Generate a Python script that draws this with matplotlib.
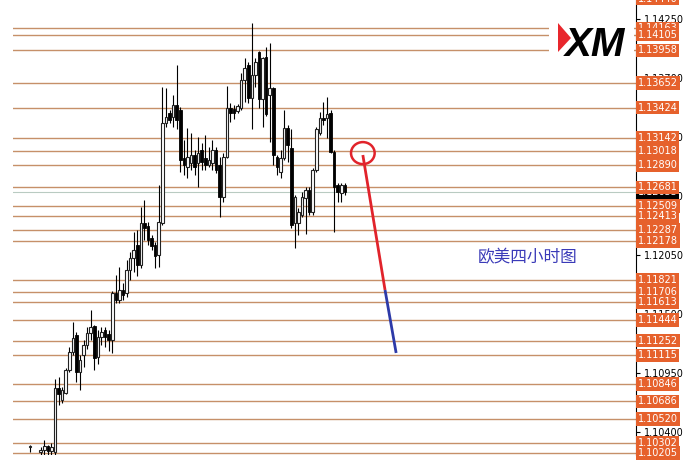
import numpy as np
import matplotlib
matplotlib.use("Agg")
import matplotlib.pyplot as plt
from matplotlib.patches import Ellipse, Rectangle, Polygon
import matplotlib.transforms as mtransforms

# EURUSD H4 candles (open, high, low, close)
opens = [
    1.1026, 1.1015, 1.1013, 1.1021, 1.1023, 1.1027, 1.1022, 1.1021, 1.1081, 1.1070,
    1.1076, 1.1098, 1.1115, 1.1130, 1.1096, 1.1112, 1.1121, 1.1132, 1.1139, 1.1110,
    1.1129, 1.1135, 1.1131, 1.1126, 1.1170, 1.1163, 1.1172, 1.1170, 1.1191, 1.1202,
    1.1214, 1.1196, 1.1235, 1.1232, 1.1221, 1.1214, 1.1205, 1.1235, 1.1328, 1.1337,
    1.1334, 1.1345, 1.1340, 1.1295, 1.1287, 1.1291, 1.1298, 1.1291, 1.1303, 1.1295,
    1.1289, 1.1291, 1.1303, 1.1289, 1.1259, 1.1296, 1.1342, 1.1341, 1.1339, 1.1342,
    1.1368, 1.1382, 1.1351, 1.1373, 1.1394, 1.1350, 1.1390, 1.1354, 1.1361, 1.1296,
    1.1282, 1.1295, 1.1323, 1.1305, 1.1235, 1.1235, 1.1242, 1.1258, 1.1266, 1.1245,
    1.1284, 1.1319, 1.1333, 1.1333, 1.1337, 1.1301, 1.1270, 1.1263, 1.1270,
]
highs = [
    1.1028, 1.1017, 1.1016, 1.1026, 1.1033, 1.1028, 1.1030, 1.1089, 1.1091, 1.1082,
    1.1100, 1.1119, 1.1143, 1.1133, 1.1112, 1.1126, 1.1138, 1.1154, 1.1140, 1.1135,
    1.1138, 1.1138, 1.1135, 1.1171, 1.1186, 1.1194, 1.1179, 1.1200, 1.1208, 1.1226,
    1.1228, 1.1250, 1.1256, 1.1236, 1.1224, 1.1217, 1.1270, 1.1362, 1.1361, 1.1340,
    1.1354, 1.1382, 1.1343, 1.1312, 1.1323, 1.1319, 1.1303, 1.1315, 1.1309, 1.1317,
    1.1306, 1.1312, 1.1306, 1.1296, 1.1300, 1.1363, 1.1347, 1.1345, 1.1346, 1.1375,
    1.1389, 1.1385, 1.1421, 1.1389, 1.1395, 1.1390, 1.1399, 1.1403, 1.1362, 1.1298,
    1.1303, 1.1340, 1.1326, 1.1322, 1.1261, 1.1249, 1.1264, 1.1268, 1.1268, 1.1286,
    1.1324, 1.1338, 1.1348, 1.1352, 1.1340, 1.1303, 1.1272, 1.1272, 1.1272,
]
lows = [
    1.1021, 1.1010, 1.1008, 1.1016, 1.1017, 1.1018, 1.1016, 1.1017, 1.1065, 1.1067,
    1.1075, 1.1096, 1.1112, 1.1087, 1.1079, 1.1101, 1.1117, 1.1126, 1.1098, 1.1103,
    1.1121, 1.1119, 1.1116, 1.1114, 1.1160, 1.1160, 1.1163, 1.1166, 1.1182, 1.1189,
    1.1185, 1.1193, 1.1219, 1.1214, 1.1210, 1.1193, 1.1194, 1.1233, 1.1324, 1.1328,
    1.1324, 1.1322, 1.1282, 1.1280, 1.1277, 1.1284, 1.1280, 1.1268, 1.1284, 1.1284,
    1.1287, 1.1284, 1.1281, 1.1240, 1.1254, 1.1295, 1.1329, 1.1332, 1.1337, 1.1340,
    1.1348, 1.1347, 1.1322, 1.1362, 1.1342, 1.1324, 1.1335, 1.1310, 1.1289, 1.1280,
    1.1277, 1.1294, 1.1292, 1.1230, 1.1212, 1.1224, 1.1240, 1.1225, 1.1242, 1.1242,
    1.1282, 1.1317, 1.1326, 1.1314, 1.1300, 1.1226, 1.1254, 1.1254, 1.1261,
]
closes = [
    1.1027, 1.1013, 1.1014, 1.1023, 1.1027, 1.1022, 1.1026, 1.1081, 1.1075, 1.1079,
    1.1098, 1.1115, 1.1128, 1.1096, 1.1107, 1.1121, 1.1132, 1.1138, 1.1109, 1.1129,
    1.1133, 1.1129, 1.1126, 1.1170, 1.1163, 1.1172, 1.1168, 1.1191, 1.1202, 1.1210,
    1.1196, 1.1235, 1.1230, 1.1219, 1.1213, 1.1204, 1.1236, 1.1328, 1.1334, 1.1331,
    1.1345, 1.1331, 1.1294, 1.1289, 1.1296, 1.1298, 1.1287, 1.1300, 1.1292, 1.1289,
    1.1294, 1.1303, 1.1284, 1.1259, 1.1296, 1.1342, 1.1337, 1.1337, 1.1344, 1.1368,
    1.1379, 1.1351, 1.1373, 1.1385, 1.1350, 1.1389, 1.1336, 1.1361, 1.1298, 1.1287,
    1.1295, 1.1323, 1.1308, 1.1233, 1.1259, 1.1245, 1.1259, 1.1266, 1.1245, 1.1284,
    1.1322, 1.1333, 1.1331, 1.1336, 1.1301, 1.1268, 1.1264, 1.1270, 1.12633,
]
assert len(opens) == len(highs) == len(lows) == len(closes)

# horizontal support / resistance levels
levels = [
    1.14440, 1.14163, 1.14105, 1.13958, 1.13652, 1.13424, 1.13142, 1.13018,
    1.12890, 1.12681, 1.12509, 1.12413, 1.12287, 1.12178, 1.11821, 1.11706,
    1.11613, 1.11444, 1.11252, 1.11115, 1.10846, 1.10686, 1.10520, 1.10302,
    1.10205,
]
price_ticks = [1.14250, 1.13700, 1.13150, 1.12600, 1.12050, 1.11500, 1.10950, 1.10400]
last_price = 1.12633

# projected path: red then blue
path_red_x = [93.0, 99.2]
path_red_y = [1.12982, 1.11724]
path_blue_x = [99.2, 102.3]
path_blue_y = [1.11724, 1.11137]
circle_xy = (93.0, 1.13000)
title_text = "欧美四小时图"
title_xy = (139.1, 1.12022)

level_color = "#c69069"
label_color = "#e6612c"

fig = plt.figure(figsize=(7, 4.68), dpi=100)
ax = fig.add_axes([13 / 700, 13 / 468, 623 / 700, 455 / 468])
ax.set_xlim(-4.72, 169.3)
ax.set_ylim(1.10186, 1.14427)

# levels
for lv in levels:
    ax.axhline(lv, color=level_color, lw=1.0, zorder=1)
ax.axhline(last_price, color="#b9cbc2", lw=0.8, zorder=1)

# candles
x = np.arange(len(opens))
o = np.array(opens)
c = np.array(closes)
ax.vlines(x, lows, highs, color="black", lw=0.8, zorder=3)
bull = c >= o
body_h = np.maximum(np.abs(c - o), 0.00004)
ax.bar(x[bull], body_h[bull], bottom=o[bull], width=0.72,
       facecolor="white", edgecolor="#222222", linewidth=0.8, zorder=4)
ax.bar(x[~bull], body_h[~bull], bottom=c[~bull], width=0.72,
       facecolor="black", edgecolor="black", linewidth=0.6, zorder=4)

# projection
ax.plot(path_red_x, path_red_y, color="#e1232b", lw=2, zorder=5, solid_capstyle="butt")
ax.plot(path_blue_x, path_blue_y, color="#2d3aa8", lw=2, zorder=5, solid_capstyle="butt")
ax.add_patch(Ellipse(circle_xy, 6.6, 0.00205, fill=False, ec="#e1232b", lw=1.8, zorder=5))

ax.text(title_xy[0], title_xy[1], title_text, color="#3a3ab8", fontsize=12,
        family=["Noto Sans CJK SC", "DejaVu Sans"], ha="center", va="center")

# right price axis
for s in ("left", "top", "bottom"):
    ax.spines[s].set_visible(False)
ax.spines["right"].set_linewidth(0.8)
ax.set_xticks([])
ax.yaxis.tick_right()
ax.set_yticks(price_ticks)
ax.set_yticklabels([f"{v:.5f}" for v in price_ticks])
ax.tick_params(axis="y", direction="out", length=3, width=0.8, labelsize=7, pad=3)

trans = mtransforms.blended_transform_factory(ax.transAxes, ax.transData)
ax.text(1.003, last_price, f"{last_price:.5f}", transform=trans, fontsize=7,
        color="white", ha="left", va="center", clip_on=False, zorder=5,
        bbox=dict(boxstyle="square,pad=0.18", fc="black", ec="none"))
for lv in levels:
    ax.text(1.003, lv, f"{lv:.5f}", transform=trans, fontsize=7, color="white",
            ha="left", va="center", clip_on=False, zorder=6,
            bbox=dict(boxstyle="square,pad=0.18", fc=label_color, ec="none"))

# XM logo
fig.add_artist(Rectangle((549 / 700, 1 - 62 / 468), 85 / 700, 47 / 468,
                         transform=fig.transFigure, fc="white", ec="none", zorder=5))
fig.add_artist(Polygon([(558 / 700, 1 - 23 / 468), (571 / 700, 1 - 38 / 468),
                        (558 / 700, 1 - 52 / 468)], closed=True,
                       transform=fig.transFigure, fc="#e8262c", ec="none", zorder=6))
fig.text(565 / 700, 1 - 56 / 468, "XM", fontsize=29, fontweight="bold",
         fontstyle="italic", family="Liberation Sans", color="black",
         ha="left", va="baseline", zorder=7)

fig.savefig("out.png", dpi=100, facecolor="white")
